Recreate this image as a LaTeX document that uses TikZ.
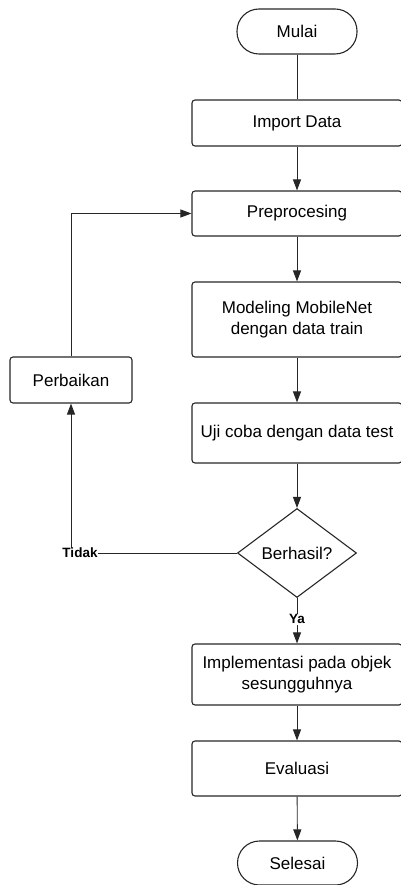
\documentclass[tikz,border=0pt]{standalone}
\usepackage{fontspec}
\setmainfont{Liberation Sans}
\usetikzlibrary{shapes.geometric,arrows.meta}
\begin{document}
\begin{tikzpicture}[x=1pt,y=-1pt,
  every node/.style={font=\fontsize{17}{20.5}\selectfont},
  box/.style={draw=black!85,line width=1.1pt,rounded corners=3pt,minimum width=210pt,align=center,inner sep=2pt},
  term/.style={draw=black!85,line width=1.1pt,rounded corners=22pt,minimum width=120pt,minimum height=45pt},
  decide/.style={draw=black!85,line width=1.1pt,diamond,inner sep=0pt,minimum width=119pt,minimum height=89pt},
  flow/.style={draw=black!85,line width=0.9pt,-{Triangle[length=11pt,width=8pt]}},
  plain/.style={draw=black!85,line width=0.9pt},
  tag/.style={font=\fontsize{13.5}{15}\selectfont\bfseries,fill=white,inner sep=0.5pt}]
  \useasboundingbox (0,0) rectangle (401,885);
  \begin{scope}
  \clip (0,0) rectangle (401,885);
  \node[term] (mulai) at (297,31.5) {Mulai};
  \node[box,minimum height=46pt] (imp) at (297,123) {Import Data};
  \node[box,minimum height=45pt] (prep) at (297,213.5) {Preprocesing};
  \node[box,minimum height=75pt] (model) at (297,319.5) {Modeling MobileNet\\dengan data train};
  \node[box,minimum height=60pt] (uji) at (297,433) {Uji coba dengan data test};
  \node[decide] (dec) at (297,553) {Berhasil?};
  \node[box,minimum height=61pt] (impl) at (297,674.5) {Implementasi pada objek\\sesungguhnya};
  \node[box,minimum height=55pt] (eval) at (297,768.5) {Evaluasi};
  \node[term,minimum height=44pt] (sel) at (297.5,863) {Selesai};
  \node[box,minimum width=122pt,minimum height=46pt] (perb) at (71,380) {Perbaikan};

  \draw[plain] (mulai) -- (imp);
  \draw[flow] (imp) -- (prep);
  \draw[flow] (prep) -- (model);
  \draw[flow] (model) -- (uji);
  \draw[flow] (uji) -- (dec);
  \draw[flow] (dec) -- node[tag,pos=0.47] (ya) {Ya} (impl);
  \draw[flow] (impl) -- (eval);
  \draw[flow] (eval) -- (sel);
  \draw[flow] (dec.west) -| (perb.south);
  \node[tag] (tidak) at (80,553) {Tidak};
  \draw[flow] (perb.north) |- (prep.west);
  \end{scope}
\end{tikzpicture}
\end{document}
